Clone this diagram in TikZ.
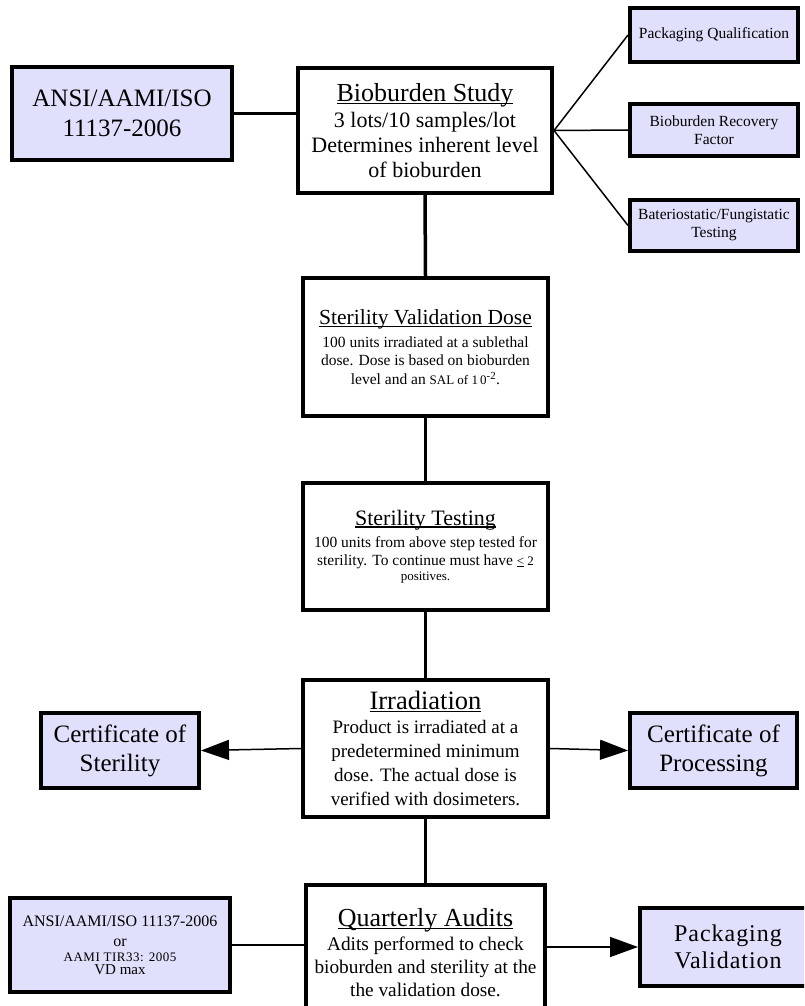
\documentclass[tikz,border=0pt]{standalone}
\usepackage{fontspec}
\setmainfont{Liberation Serif}
\usetikzlibrary{arrows.meta}
\definecolor{boxfill}{RGB}{224,224,252}
\newcommand\ulx[1]{\setbox0\hbox{#1}\rlap{\rule[-0.11em]{\wd0}{0.055em}}\box0\relax}
\newcommand\fs[2]{\fontsize{#1}{#2}\selectfont}
\tikzset{
  mainbox/.style={draw, line width=4pt, fill=white, align=center, inner sep=2pt},
  sidebox/.style={draw, line width=4pt, fill=boxfill, align=center, inner sep=2pt},
  conn/.style={line width=3.5pt},
  thinconn/.style={line width=1.5pt},
  arr/.style={line width=1.5pt, -{Triangle[length=28pt,width=20pt]}}
}
\begin{document}
\begin{tikzpicture}[x=1pt,y=-1pt]
\useasboundingbox (0,0) rectangle (804,1006);
\clip (0,0) rectangle (804,1006);
% nodes
\node[sidebox, minimum width=220pt, minimum height=93pt, font=\fs{25}{30}] (ansi) at (122,113.5) {ANSI/AAMI/ISO\\11137-2006};
\node[mainbox, minimum width=254pt, minimum height=125pt, font=\fs{22}{25}] (bio) at (425,130.5)
  {{\fs{26}{27}\ulx{Bioburden Study}}\\[1pt]3 lots/10 samples/lot\\Determines inherent level\\of bioburden};
\node[sidebox, minimum width=168pt, minimum height=54pt, font=\fs{15.5}{18}] (pq) at (714,35) {Packaging Qualification};
\node[sidebox, minimum width=168pt, minimum height=52pt, font=\fs{15.5}{18}] (brf) at (714,130) {Bioburden Recovery\\Factor};
\node[sidebox, minimum width=168pt, minimum height=51pt, font=\fs{15.5}{18}] (bft) at (714,225.5) {Bateriostatic/Fungistatic\\Testing};
\node[mainbox, minimum width=245pt, minimum height=138pt, font=\fs{15.5}{18.5}] (svd) at (425.5,347)
  {{\fs{21.5}{23}\ulx{Sterility Validation Dose}}\\[4.5pt]100 units irradiated at a sublethal\\dose. Dose is based on bioburden\\level and an {\fs{13}{15}SAL of 1\,0}\textsuperscript{-2}.};
\node[mainbox, minimum width=245pt, minimum height=127pt, font=\fs{15.5}{18}] (st) at (425.5,546.5)
  {{\fs{22}{22}\ulx{Sterility Testing}}\\[4pt]100 units from above step tested for\\sterility. To continue must have {\fs{13}{15}\ulx{<} 2}\\[-3pt]{\fs{13}{15}positives.}};
\node[mainbox, minimum width=245pt, minimum height=137pt, font=\fs{19}{24}] (irr) at (425.5,748.5)
  {{\fs{26.5}{27}\ulx{Irradiation}}\\Product is irradiated at a\\predetermined minimum\\dose. The actual dose is\\verified with dosimeters.};
\node[sidebox, minimum width=158pt, minimum height=75pt, font=\fs{25}{29}] (cs) at (120,750.5) {Certificate of\\Sterility};
\node[sidebox, minimum width=167pt, minimum height=75pt, font=\fs{25}{29}] (cp) at (713.5,750.5) {Certificate of\\Processing};
\node[mainbox, minimum width=239pt, minimum height=135pt, font=\fs{19.3}{23}] (qa) at (425.5,952.5)
  {{\fs{26}{26}\ulx{Quarterly Audits}}\\[1pt]Adits performed to check\\bioburden and sterility at the\\the validation dose.};
\node[sidebox, minimum width=220pt, minimum height=94pt, font=\fs{13}{13}] (ansib) at (120,945)
  {{\fs{16}{16}ANSI/AAMI/ISO 11137-2006}\\[7pt]{\fs{16}{16}or}\\[2pt]{\addfontfeatures{LetterSpace=4}AAMI TIR33: 2005}\\{\fs{15}{15}VD max}};
\node[sidebox, minimum width=176pt, minimum height=78pt, font=\fs{24}{27}\addfontfeatures{LetterSpace=4}] (pv) at (728,947) {Packaging\\Validation};
% connectors
\draw[conn] (ansi.east) -- (ansi.east -| bio.west);
\draw[thinconn] (bio.east) -- (pq.west);
\draw[thinconn] (bio.east) -- (brf.west);
\draw[thinconn] (bio.east) -- (bft.west);
\draw[conn] (bio.south) -- (svd.north);
\draw[conn] (svd.south) -- (st.north);
\draw[conn] (st.south) -- (irr.north);
\draw[conn] (irr.south) -- (qa.north);
\draw[arr] (irr.west) -- (cs.east);
\draw[arr] (irr.east) -- (cp.west);
\draw[line width=2pt] (ansib.east) -- (ansib.east -| qa.west);
\draw[arr] (pv.west -| qa.east) -- (pv.west);
\end{tikzpicture}
\end{document}
